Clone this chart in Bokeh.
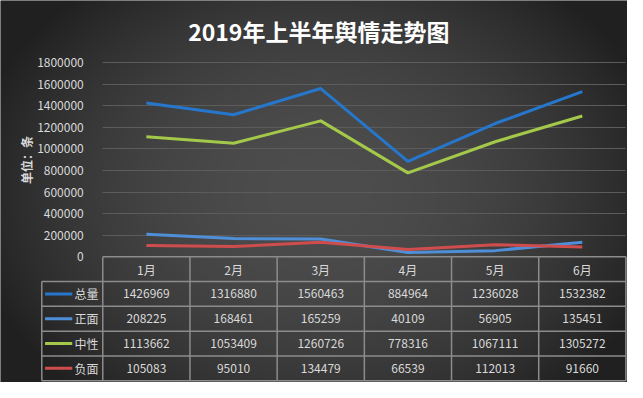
import numpy as np
from bokeh.plotting import figure
from bokeh.models import Range1d, LinearAxis, FixedTicker, BasicTickFormatter, Grid, Label
from bokeh.core.properties import value
from bokeh.embed import file_html
from bokeh.resources import INLINE

# ---------------- data ----------------
months = ["1月", "2月", "3月", "4月", "5月", "6月"]
series_names = ["总量", "正面", "中性", "负面"]
total = [1426969, 1316880, 1560463, 884964, 1236028, 1532382]
positive = [208225, 168461, 165259, 40109, 56905, 135451]
neutral = [1113662, 1053409, 1260726, 778316, 1067111, 1305272]
negative = [105083, 95010, 134479, 66539, 112013, 91660]
y_ticks = [0, 200000, 400000, 600000, 800000, 1000000, 1200000, 1400000, 1600000, 1800000]
title_text = "2019年上半年舆情走势图"
y_label_text = "单位：条"

series_values = [total, positive, neutral, negative]
colors = ["#2677cc", "#4f8fd8", "#a3c84a", "#cf4d4d"]

FONT = "Noto Sans CJK SC"
TEXT_COLOR = "#d9d9d9"
TABLE_LINE = "#8c8c8c"

# ---------------- layout (pixels on the canvas) ----------------
W, H = 627, 382
SX, SY, TY = 0.99, 0.98, -0.2

def rx(px):
    return SX * px

def ry(py):
    return SY * py + TY

col_w = 88.07 * SX
x0_px = rx(103.3)
ppu = 22.0 * SY / 200000.0
zero_px = ry(261.7)
row_px = 25.3 * SY

x_start = -x0_px / col_w
x_end = (W - x0_px) / col_w
y_end = zero_px / ppu
y_start = -(H - zero_px) / ppu
row_h = row_px / ppu

def xd(px):
    return (px - x0_px) / col_w

def yd(py):
    return (zero_px - py) / ppu

p = figure(width=W, height=H,
           x_range=Range1d(x_start, x_end), y_range=Range1d(y_start, y_end),
           output_backend="svg", toolbar_location=None,
           x_axis_location=None, y_axis_location=None,
           min_border=0, outline_line_color=None,
           background_fill_color="#3c3c3c", border_fill_color="#3c3c3c")
p.grid.visible = False

# background radial gradient
yy, xx = np.mgrid[0:H, 0:W]
r = np.sqrt(((xx - 318) / 345.0) ** 2 + ((yy - 192) / 262.0) ** 2)
v = np.clip(77 - 42 * r ** 2, 32, 255).astype(np.uint8)
img = np.empty((H, W), dtype=np.uint32)
view = img.view(dtype=np.uint8).reshape((H, W, 4))
view[..., 0] = v
view[..., 1] = v
view[..., 2] = v
view[..., 3] = 255
img = img[::-1].copy()
p.image_rgba(image=[img], x=x_start, y=y_start, dw=x_end - x_start, dh=y_end - y_start, level="image")

# grid
n = len(months)
grid = Grid(dimension=1, ticker=FixedTicker(ticks=y_ticks[1:]),
            grid_line_color="#5c5c5c", grid_line_width=1, cross_bounds=(0, n))
p.add_layout(grid)

# y axis placed at the table's left edge
yax = LinearAxis(ticker=FixedTicker(ticks=y_ticks),
                 formatter=BasicTickFormatter(use_scientific=False),
                 fixed_location=0,
                 axis_line_color=None, major_tick_line_color=None, minor_tick_line_color=None,
                 major_label_text_color=TEXT_COLOR, major_label_text_font=FONT,
                 major_label_text_font_size="12px", major_label_standoff=13)
p.add_layout(yax, "left")

# lines
idx = np.arange(n) + 0.5
for vals, c in zip(series_values, colors):
    p.line(x=idx, y=vals, line_color=c, line_width=3, line_join="round")

# table lines
leg_left = xd(rx(41.7))
nrows = len(series_names)
hx0, hx1, hy0, hy1 = [], [], [], []
hx0.append(0); hx1.append(n); hy0.append(0); hy1.append(0)
for k in range(1, nrows + 2):
    hx0.append(leg_left); hx1.append(n); hy0.append(-k * row_h); hy1.append(-k * row_h)
for c in range(n + 1):
    hx0.append(c); hx1.append(c); hy0.append(0); hy1.append(-(nrows + 1) * row_h)
hx0.append(leg_left); hx1.append(leg_left); hy0.append(-row_h); hy1.append(-(nrows + 1) * row_h)
p.segment(x0=hx0, y0=hy0, x1=hx1, y1=hy1, line_color=TABLE_LINE, line_width=1.5)

# header
p.text(x=idx, y=[-0.5 * row_h] * n, text=months, text_align="center", text_baseline="middle",
       text_color=TEXT_COLOR, text_font=value(FONT), text_font_size="12px")

# values
tx, ty, tt = [], [], []
for r_i, vals in enumerate(series_values):
    for i, val in enumerate(vals):
        tx.append(idx[i]); ty.append(-(r_i + 1.5) * row_h); tt.append(str(val))
p.text(x=tx, y=ty, text=tt, text_align="center", text_baseline="middle",
       text_color=TEXT_COLOR, text_font=value(FONT), text_font_size="12px")

# legend column
ly = [-(r_i + 1.5) * row_h for r_i in range(nrows)]
p.segment(x0=[xd(rx(45))] * nrows, x1=[xd(rx(72.5))] * nrows, y0=ly, y1=ly,
          line_color=colors, line_width=3)
p.text(x=[xd(rx(99))] * nrows, y=ly, text=series_names, text_align="right", text_baseline="middle",
       text_color=TEXT_COLOR, text_font=value(FONT), text_font_size="12px")

# title
p.add_layout(Label(x=xd(rx(321.5)), y=yd(ry(31)), text=title_text, text_align="center",
                   text_baseline="middle", text_color="#ffffff", text_font=FONT,
                   text_font_size="23px", text_font_style="bold"))

# y label
p.add_layout(Label(x=xd(rx(26)), y=yd(ry(163)), text=y_label_text, angle=np.pi / 2,
                   text_align="center", text_baseline="middle", text_color=TEXT_COLOR,
                   text_font=FONT, text_font_size="12px", text_font_style="bold"))

open("out.html", "w").write(file_html(p, INLINE))
